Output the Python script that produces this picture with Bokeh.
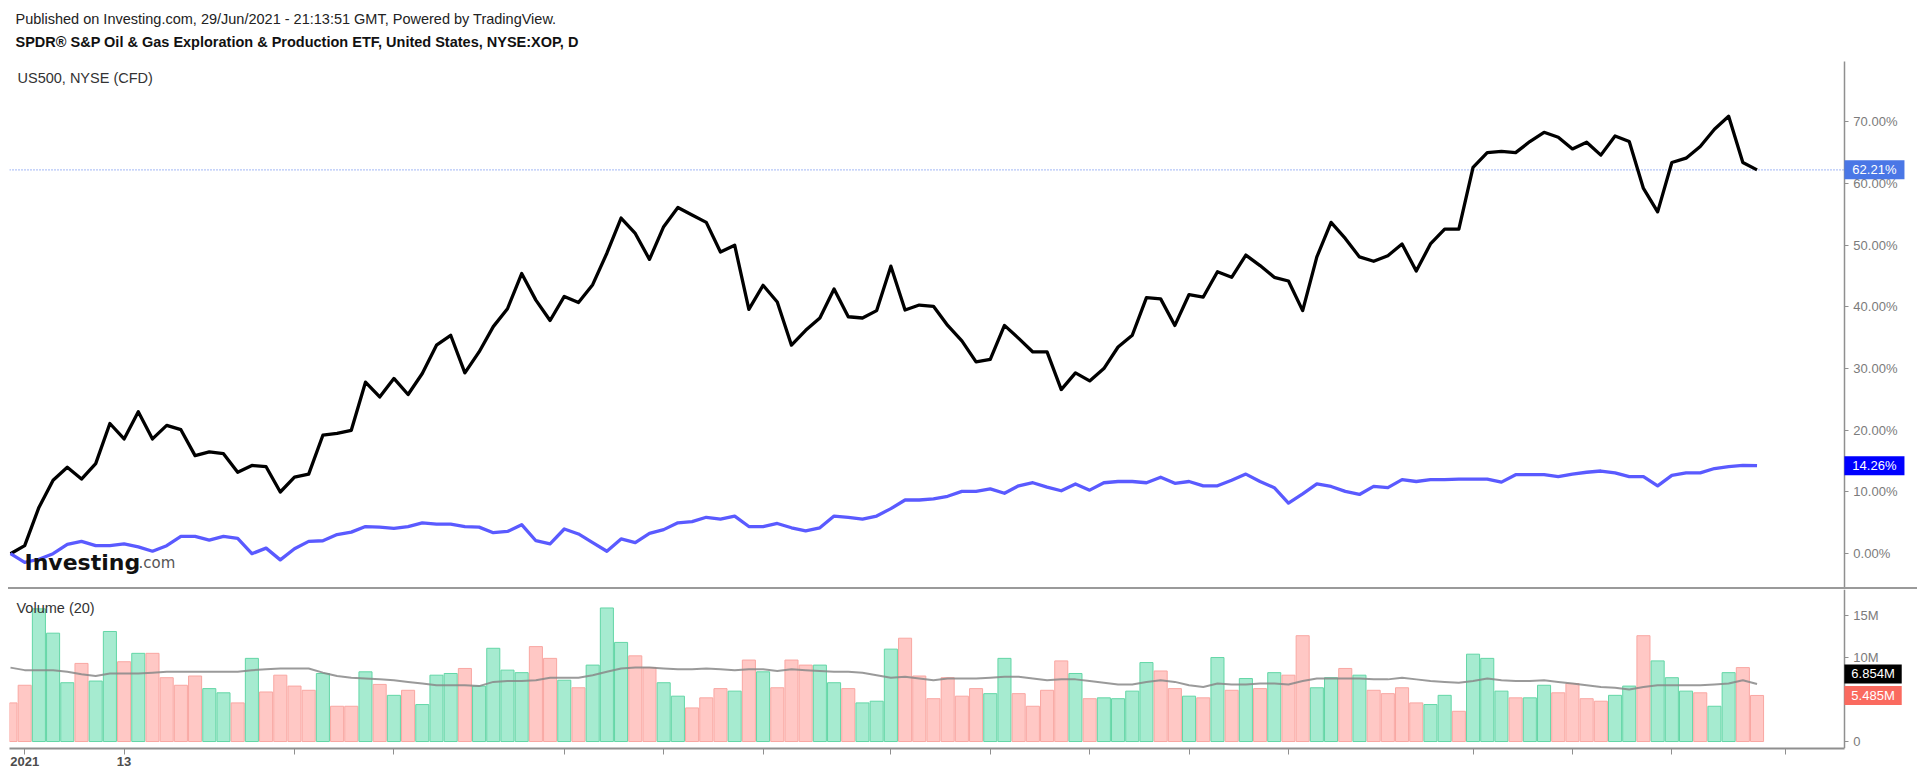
from bokeh.plotting import figure
from bokeh.models import Range1d, FixedTicker, PrintfTickFormatter, Label, Div
from bokeh.layouts import column
from bokeh.embed import file_html
from bokeh.resources import INLINE

# ---------------- data ----------------
xop = [0, 1.3, 7.5, 11.9, 14.0, 12.1, 14.6, 21.1, 18.6, 23.0,
       18.6, 20.8, 20.1, 15.9, 16.5, 16.2, 13.2, 14.3, 14.1, 10.0,
       12.4, 12.9, 19.2, 19.5, 20.0, 27.8, 25.4, 28.4, 25.8, 29.2,
       33.8, 35.4, 29.3, 32.7, 36.8, 39.7, 45.4, 41.1, 37.8, 41.7,
       40.7, 43.6, 48.7, 54.4, 51.9, 47.7, 53.0, 56.1, 54.9, 53.7,
       48.9, 50.0, 39.6, 43.5, 40.8, 33.8, 36.2, 38.2, 42.9, 38.4,
       38.2, 39.4, 46.6, 39.5, 40.3, 40.1, 37.0, 34.5, 31.1, 31.5,
       37.0, 34.9, 32.7, 32.7, 26.6, 29.3, 28.0, 30.0, 33.5, 35.4,
       41.5, 41.3, 37.0, 42.0, 41.6, 45.7, 44.8, 48.4, 46.7, 44.8,
       44.2, 39.4, 48.1, 53.7, 51.1, 48.1, 47.4, 48.3, 50.2, 45.8,
       50.2, 52.6, 52.6, 62.6, 65.0, 65.2, 65.0, 66.8, 68.3, 67.5,
       65.6, 66.7, 64.6, 67.7, 66.8, 59.2, 55.4, 63.4, 64.1, 66.0,
       68.8, 70.9, 63.4, 62.21]

us500 = [0, -1.4, -0.9, 0.0, 1.5, 2.0, 1.3, 1.3, 1.6, 1.1,
         0.4, 1.3, 2.8, 2.8, 2.2, 2.8, 2.5, 0.0, 0.9, -1.0,
         0.8, 2.0, 2.1, 3.1, 3.5, 4.4, 4.3, 4.1, 4.4, 5.0,
         4.8, 4.8, 4.4, 4.3, 3.4, 3.6, 4.7, 2.1, 1.6, 4.0,
         3.2, 1.8, 0.4, 2.4, 1.8, 3.3, 3.9, 5.0, 5.2, 5.9,
         5.6, 6.1, 4.4, 4.4, 4.9, 4.2, 3.7, 4.2, 6.1, 5.9,
         5.6, 6.1, 7.3, 8.7, 8.7, 8.9, 9.3, 10.1, 10.1, 10.5,
         9.8, 11.0, 11.5, 10.8, 10.2, 11.3, 10.3, 11.5, 11.7, 11.7,
         11.5, 12.4, 11.4, 11.7, 11.0, 11.0, 11.9, 12.9, 11.7, 10.7,
         8.2, 9.7, 11.3, 10.9, 10.1, 9.6, 10.9, 10.7, 12.0, 11.7,
         12.0, 12.0, 12.1, 12.1, 12.1, 11.6, 12.8, 12.8, 12.8, 12.5,
         12.9, 13.2, 13.4, 13.1, 12.5, 12.5, 11.0, 12.7, 13.1, 13.1,
         13.8, 14.1, 14.3, 14.26]

volume_m = [4.6, 6.7, 15.8, 12.9, 7.0, 9.3, 7.2, 13.1, 9.5, 10.5,
            10.5, 7.6, 6.7, 7.8, 6.3, 5.8, 4.6, 9.9, 5.9, 7.9,
            6.6, 6.1, 8.1, 4.2, 4.2, 8.3, 6.8, 5.5, 6.1, 4.4,
            7.9, 8.1, 8.7, 6.6, 11.1, 8.5, 8.2, 11.3, 9.9, 7.3,
            6.4, 9.1, 15.9, 11.8, 10.2, 8.8, 7.0, 5.4, 4.0, 5.2,
            6.3, 6.0, 9.7, 8.3, 6.4, 9.7, 9.1, 9.1, 7.0, 6.3,
            4.6, 4.8, 11.0, 12.3, 7.8, 5.1, 7.6, 5.4, 6.3, 5.7,
            9.9, 5.7, 4.2, 6.1, 9.6, 8.1, 5.1, 5.2, 5.1, 6.0,
            9.4, 8.4, 6.3, 5.4, 5.2, 10.0, 6.1, 7.5, 6.3, 8.2,
            7.9, 12.6, 6.4, 7.6, 8.7, 7.9, 6.1, 5.7, 6.4, 4.6,
            4.4, 5.5, 3.6, 10.4, 9.9, 6.0, 5.2, 5.2, 6.7, 5.8,
            6.9, 5.1, 4.8, 5.5, 6.6, 12.6, 9.6, 7.6, 6.0, 5.8,
            4.2, 8.2, 8.8, 5.485]

volume_dir = list("rrgggrggrg" "rrrrggrgrr" "rrgrrgrgrg" "ggrggggrrg"
                  "rgggrrggrr" "rgrgrrrggr" "gggrrrrrrg" "grrrrgrggg"
                  "grrgrgrgrg" "rrggrgrrrr" "ggrgggrggr" "rrrggrgggr"
                  "ggrr")

volume_ma = [8.8, 8.5, 8.5, 8.5, 8.3, 8.0, 7.8, 8.1, 8.1, 8.1,
             8.2, 8.3, 8.3, 8.3, 8.3, 8.3, 8.3, 8.5, 8.6, 8.7,
             8.7, 8.7, 8.2, 7.8, 7.6, 7.5, 7.4, 7.3, 7.1, 6.9,
             6.7, 6.7, 6.7, 6.6, 7.1, 7.2, 7.2, 7.3, 7.6, 7.6,
             7.6, 7.9, 8.3, 8.7, 8.8, 8.8, 8.7, 8.6, 8.6, 8.7,
             8.6, 8.5, 8.6, 8.6, 8.4, 8.6, 8.5, 8.4, 8.3, 8.3,
             8.2, 7.9, 7.6, 7.7, 7.5, 7.3, 7.5, 7.5, 7.5, 7.6,
             7.7, 7.7, 7.5, 7.3, 7.4, 7.4, 7.2, 7.0, 6.8, 6.8,
             7.1, 7.3, 7.1, 6.7, 6.5, 6.9, 6.8, 6.8, 6.9, 6.9,
             6.8, 7.2, 7.5, 7.5, 7.5, 7.5, 7.4, 7.4, 7.6, 7.4,
             7.2, 7.1, 7.0, 7.2, 7.5, 7.3, 7.2, 7.2, 7.3, 7.1,
             6.9, 6.7, 6.5, 6.4, 6.2, 6.5, 6.7, 6.7, 6.7, 6.7,
             6.8, 6.9, 7.3, 6.854]

pct_ticks = [0, 10, 20, 30, 40, 50, 60, 70]
vol_ticks = [0, 5, 10, 15]
vol_tick_labels = ["0", "5M", "10M", "15M"]
date_ticks = [1, 8, 20, 27, 39, 46, 53, 62, 69, 76, 83, 90, 103, 110, 117, 125]
date_labels = ["2021", "13"] + [""] * 14

idx = list(range(len(xop)))

# ---------------- layout constants ----------------
FONT = "Liberation Sans"
AX = "#8f8f8f"
LBL = "#7b7b7b"
X_START = -0.07
X_END = 134.3       # page right edge
AXIS_X = 129.15     # where the price scale sits
PCT_TOP = 79.8      # top of the price-scale line
TAG_PAD = (8, 2)    # horizontal, vertical
VTAG_PAD = (7, 2)

# ---------------- main panel ----------------
pA = figure(width=1917, height=587, x_range=Range1d(X_START, X_END),
            y_range=Range1d(-5.48, 89.66), output_backend="svg",
            toolbar_location=None, x_axis_location=None, y_axis_location="right",
            min_border_left=9, min_border_right=0, min_border_top=0,
            min_border_bottom=0)
pA.outline_line_color = None
pA.grid.visible = False
pA.background_fill_color = "white"
pA.border_fill_color = "white"
ya = pA.yaxis[0]
ya.fixed_location = AXIS_X
ya.bounds = (-5.48, PCT_TOP)
ya.ticker = FixedTicker(ticks=pct_ticks)
ya.formatter = PrintfTickFormatter(format="%.2f%%")
ya.axis_line_color = AX
ya.axis_line_width = 1.5
ya.major_tick_line_color = AX
ya.major_tick_out = 4
ya.major_tick_in = 0
ya.minor_tick_line_color = None
ya.major_label_text_color = LBL
ya.major_label_text_font = FONT
ya.major_label_text_font_size = "13px"
ya.major_label_standoff = 5

pA.segment(x0=[X_START], x1=[AXIS_X], y0=[xop[-1]], y1=[xop[-1]],
           line_color="#6c8cf0", line_dash="1 2", line_width=1.2)
pA.line(idx, xop, color="black", line_width=3.3, line_join="round")
pA.line(idx, us500, color="#5a5aff", line_width=3.3, line_join="round")

# header texts (screen units, relative to the frame's bottom-left)
pA.add_layout(Label(x=6, y=569, x_units="screen", y_units="screen",
                    text="Published on Investing.com, 29/Jun/2021 - 21:13:51 GMT, Powered by TradingView.",
                    text_font=FONT, text_font_size="14.5px", text_color="#222222",
                    text_baseline="middle"))
pA.add_layout(Label(x=6, y=545.5, x_units="screen", y_units="screen",
                    text="SPDR® S&P Oil & Gas Exploration & Production ETF, United States, NYSE:XOP, D",
                    text_font=FONT, text_font_size="14.5px", text_font_style="bold",
                    text_color="#111111", text_baseline="middle"))
pA.add_layout(Label(x=8, y=510, x_units="screen", y_units="screen",
                    text="US500, NYSE (CFD)", text_font=FONT, text_font_size="14.5px",
                    text_color="#333333", text_baseline="middle"))
# logo
pA.add_layout(Label(x=15, y=25, x_units="screen", y_units="screen",
                    text="Investing", text_font="DejaVu Sans", text_font_size="22px",
                    text_font_style="bold", text_color="#111111",
                    text_baseline="alphabetic"))
pA.add_layout(Label(x=129, y=25, x_units="screen", y_units="screen",
                    text=".com", text_font="DejaVu Sans", text_font_size="15px",
                    text_color="#555555", text_baseline="alphabetic"))

# last-value tags on the price scale
pA.add_layout(Label(x=AXIS_X, y=xop[-1], text=f"{xop[-1]:.2f}%", text_font=FONT,
                    text_font_size="13px", text_color="white", text_align="left",
                    text_baseline="middle", background_fill_color="#4a77e6",
                    padding=TAG_PAD, level="overlay"))
pA.add_layout(Label(x=AXIS_X, y=us500[-1], text=f"{us500[-1]:.2f}%", text_font=FONT,
                    text_font_size="13px", text_color="white", text_align="left",
                    text_baseline="middle", background_fill_color="#0000ff",
                    padding=TAG_PAD, level="overlay"))

# ---------------- separator ----------------
sep = Div(width=1917, height=2, margin=0,
          styles={"background": "linear-gradient(to right, #ffffff 8px, #9a9a9a 8px)"})

# ---------------- volume panel ----------------
pB = figure(width=1917, height=188, x_range=pA.x_range, y_range=Range1d(-0.83, 18.1),
            output_backend="svg", toolbar_location=None, y_axis_location="right",
            x_axis_location="below", min_border_left=9, min_border_right=0,
            min_border_top=0, min_border_bottom=29)
pB.outline_line_color = None
pB.grid.visible = False
pB.background_fill_color = "white"
pB.border_fill_color = "white"
fills = ["#a6ebd0" if d == "g" else "#ffc8c5" for d in volume_dir]
edges = ["#63d6a6" if d == "g" else "#f9a7a2" for d in volume_dir]
pB.vbar(x=idx, top=volume_m, bottom=0, width=0.92, fill_color=fills, line_color=edges,
        line_width=1)
pB.line(idx, volume_ma, color="#888888", line_width=2, line_alpha=0.85)

vy = pB.yaxis[0]
vy.fixed_location = AXIS_X
vy.ticker = FixedTicker(ticks=vol_ticks)
vy.major_label_overrides = {t: l for t, l in zip(vol_ticks, vol_tick_labels)}
vy.axis_line_color = AX
vy.axis_line_width = 1.5
vy.major_tick_line_color = AX
vy.major_tick_out = 4
vy.major_tick_in = 0
vy.minor_tick_line_color = None
vy.major_label_text_color = LBL
vy.major_label_text_font = FONT
vy.major_label_text_font_size = "13px"
vy.major_label_standoff = 5

vx = pB.xaxis[0]
vx.bounds = (X_START, AXIS_X)
vx.ticker = FixedTicker(ticks=date_ticks)
vx.major_label_overrides = {t: l for t, l in zip(date_ticks, date_labels)}
vx.axis_line_color = AX
vx.axis_line_width = 2
vx.major_tick_line_color = AX
vx.major_tick_out = 6
vx.major_tick_in = 0
vx.minor_tick_line_color = None
vx.major_label_text_color = "#4d4d4d"
vx.major_label_text_font = FONT
vx.major_label_text_font_size = "13px"
vx.major_label_text_font_style = "bold"
vx.major_label_standoff = 2

pB.add_layout(Label(x=7, y=141, x_units="screen", y_units="screen", text="Volume (20)",
                    text_font=FONT, text_font_size="14.5px", text_color="#333333",
                    text_baseline="middle"))
pB.add_layout(Label(x=AXIS_X, y=volume_m[-1], text=f"{volume_m[-1]:.3f}M", text_font=FONT,
                    text_font_size="13px", text_color="white", text_align="left",
                    text_baseline="middle", background_fill_color="#fa6a5f",
                    padding=VTAG_PAD, level="overlay"))
pB.add_layout(Label(x=AXIS_X, y=volume_ma[-1], y_offset=10, text=f"{volume_ma[-1]:.3f}M",
                    text_font=FONT, text_font_size="13px", text_color="white",
                    text_align="left", text_baseline="middle",
                    background_fill_color="#000000", padding=VTAG_PAD, level="overlay"))

layout = column(pA, sep, pB, spacing=0)
open("out.html", "w").write(file_html(layout, INLINE))
